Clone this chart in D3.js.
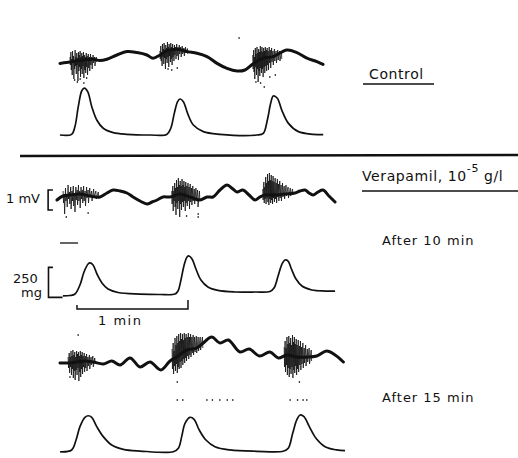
<!DOCTYPE html>
<html>
<head>
<meta charset="utf-8">
<script src="https://cdn.jsdelivr.net/npm/d3@7/dist/d3.min.js"></script>
<style>
  html, body { margin: 0; padding: 0; background: #fff; }
  svg { display: block; }
  text { font-family: "DejaVu Sans", sans-serif; fill: #111; }
</style>
</head>
<body>
<script>
// ---- Recordings: time in s, membrane potential in mV, tension in mg ----
// spike bursts: [time, upper excursion, lower excursion]

// Control
const controlWave = [[1.6,-0.02],[5.2,0.02],[8.6,0.07],[14.1,0.15],[19.5,0.19],[23.2,0.12],[27,0.19],[32.4,0.4],[37.8,0.57],[43.2,0.52],[48.6,0.4],[51.9,0.24],[55.7,0.4],[59.5,0.62],[64.9,0.69],[70.3,0.57],[75.7,0.49],[81.1,0.32],[86.5,-0.02],[91.9,-0.27],[97.3,-0.4],[101.6,-0.35],[105.9,-0.05],[111.4,0.24],[116.8,0.32],[124.3,0.65],[129.7,0.52],[135.1,0.24],[140.5,0.07],[143.8,-0.07]];
const controlSpikes = [
  [[7.0,0.3,-0.1],[7.5,0.55,-0.35],[8.0,0.2,-0.6],[8.4,0.6,0.0],[8.9,0.35,-0.8],[9.3,0.15,-0.3],[9.8,0.65,-0.15],[10.2,0.3,-0.55],[10.7,0.5,-0.1],[11.1,0.25,-0.9],[11.6,0.55,-0.4],[12.0,0.4,-0.2],[12.5,0.6,-0.7],[12.9,0.3,-0.3],[13.4,0.5,-0.55],[13.8,0.35,-0.15],[14.3,0.55,-0.75],[14.8,0.4,-0.35],[15.3,0.3,-0.5],[15.8,0.5,-0.2],[16.3,0.35,-0.6],[16.9,0.45,-0.25],[17.5,0.3,-0.4],[18.1,0.45,-0.1],[18.8,0.3,-0.3],[19.5,0.4,0.0],[20.3,0.3,-0.15],[21.2,0.3,0.05]],
  [[55.6,0.6,0.2],[56.1,0.85,0.1],[56.6,0.55,-0.15],[57.0,0.95,0.3],[57.5,0.7,-0.05],[57.9,1.0,0.25],[58.4,0.65,-0.3],[58.8,0.9,0.2],[59.3,0.75,0.0],[59.7,1.05,0.3],[60.2,0.8,-0.2],[60.6,0.95,0.35],[61.1,0.7,0.05],[61.5,1.0,0.2],[62.0,0.8,-0.1],[62.5,0.95,0.3],[63.0,0.75,0.1],[63.5,0.9,0.4],[64.1,0.8,0.2],[64.7,0.95,0.35],[65.4,0.8,0.15],[66.1,0.9,0.45],[66.9,0.8,0.3],[67.7,0.85,0.45],[68.6,0.75,0.35],[69.5,0.8,0.5],[70.5,0.72,0.45]],
  [[105.8,0.4,-0.3],[106.3,0.65,-0.45],[106.7,0.3,-0.8],[107.2,0.75,-0.2],[107.6,0.45,-0.6],[108.1,0.8,-0.3],[108.5,0.5,-0.95],[109.0,0.7,-0.4],[109.4,0.55,-0.65],[109.9,0.85,-0.25],[110.3,0.6,-0.5],[110.8,0.8,-0.3],[111.2,0.55,-0.7],[111.7,0.75,-0.2],[112.1,0.6,-0.5],[112.6,0.8,-0.15],[113.1,0.65,-0.4],[113.6,0.75,-0.1],[114.1,0.6,-0.35],[114.7,0.8,0.0],[115.3,0.65,-0.25],[116.0,0.75,0.05],[116.7,0.6,-0.1],[117.5,0.7,0.1],[118.4,0.6,0.0],[119.3,0.65,0.15],[120.3,0.6,0.1],[121.3,0.55,0.2]]
];
const controlSpecks = [[9.5,-0.85],[11,-0.95],[12.5,-0.8],[14.5,-1.0],[16,-0.75],[60,-0.3],[62,-0.35],[65,-0.25],[98.4,1.25],[107.5,-0.95],[110,-1.0],[112,-1.2],[115,-0.7],[118,-0.6]];
const controlForce = [[1.6,0],[7.9,5],[9.7,70],[11.5,236],[13.4,369],[14.8,390],[16.6,361],[18.8,236],[21.5,125],[25,56],[30.4,20],[37.7,6],[50.3,0],[59.3,5],[61.5,56],[63.4,180],[65.2,278],[66.5,300],[68.3,278],[70.6,180],[73.7,83],[79.1,28],[88.1,6],[107.9,0],[111.5,14],[113.7,125],[115.5,264],[116.9,325],[119.1,306],[121.5,208],[125.1,97],[130.5,28],[138.6,6],[143.9,3]];

// Verapamil, after 10 min
const vera10Wave = [[0,-0.15],[3.2,0.05],[7,0.1],[12.4,0.15],[17.8,0.05],[23.2,0],[27,0.2],[30.3,0.35],[34.1,0.3],[37.8,0.2],[41.1,0],[44.9,-0.2],[48.6,-0.35],[51.4,-0.25],[54.1,-0.15],[57.3,0],[61.1,0],[66.5,0.15],[71.9,0],[77.3,-0.15],[81.1,0],[84.3,0],[88.1,0.35],[91.9,0.6],[95.1,0.4],[97.3,0.25],[100.5,0.35],[103.8,0.1],[107,-0.15],[109.7,0],[112.4,0.1],[117.8,0.1],[123.2,0.15],[128.6,0.2],[131.4,0.3],[134.1,0.35],[136.2,0.2],[138.4,0.1],[141.1,0.25],[143.8,0.35],[147,0.05],[150.3,-0.25]];
const vera10Spikes = [
  [[3.3,0.3,-0.3],[3.9,0.1,-0.85],[4.6,0.45,-0.2],[5.3,0.15,-0.5],[6.0,0.6,-0.1],[6.7,0.25,-0.35],[7.4,0.5,-0.6],[8.1,0.3,-0.2],[8.8,0.55,-0.45],[9.5,0.2,-0.75],[10.2,0.5,-0.15],[10.9,0.35,-0.4],[11.6,0.6,-0.2],[12.3,0.3,-0.55],[13.0,0.5,-0.1],[13.7,0.35,-0.3],[14.4,0.55,-0.2],[15.2,0.3,-0.45],[16.0,0.5,-0.05],[16.8,0.35,-0.3],[17.7,0.45,0.0],[18.7,0.3,-0.2],[19.8,0.4,0.0],[21.0,0.3,-0.1],[22.3,0.25,0.0]],
  [[62.0,0.3,-0.35],[62.6,0.55,-0.7],[63.1,0.3,-0.2],[63.6,0.7,-0.5],[64.1,0.45,-0.9],[64.6,0.85,-0.3],[65.1,0.5,-0.6],[65.6,0.95,-0.2],[66.1,0.6,-1.0],[66.6,0.8,-0.35],[67.1,0.55,-0.65],[67.6,0.9,-0.25],[68.1,0.6,-0.5],[68.6,0.8,-0.2],[69.1,0.5,-0.7],[69.6,0.75,-0.3],[70.2,0.55,-0.45],[70.8,0.7,-0.2],[71.4,0.5,-0.6],[72.0,0.65,-0.25],[72.7,0.45,-0.4],[73.4,0.55,-0.2],[74.2,0.4,-0.35],[75.1,0.45,-0.15],[76.0,0.35,-0.5],[77.0,0.3,-0.2]],
  [[111.2,0.4,-0.15],[111.8,0.75,-0.3],[112.3,0.5,-0.1],[112.8,1.0,-0.35],[113.3,0.7,-0.05],[113.8,1.15,-0.25],[114.3,0.8,-0.4],[114.8,1.2,-0.1],[115.3,0.85,-0.3],[115.8,1.1,-0.15],[116.3,0.8,-0.35],[116.8,1.05,-0.05],[117.3,0.75,-0.25],[117.9,0.95,-0.1],[118.5,0.7,-0.3],[119.1,0.9,0.0],[119.7,0.65,-0.2],[120.4,0.8,-0.05],[121.1,0.6,-0.2],[121.9,0.7,0.0],[122.8,0.55,-0.1],[123.8,0.6,0.05],[124.9,0.5,-0.05],[126.1,0.45,0.05],[127.3,0.4,0.1]]
];
const vera10Specks = [[5,-1.0],[16.8,-0.8],[70,-0.95],[76.3,-0.85],[76.3,-1.0]];
const vera10Force = [[3.2,-8],[7,-4],[9.7,8],[12.4,83],[14.6,192],[16.8,258],[17.8,267],[19.5,250],[21.6,175],[24.3,100],[27.6,50],[33,21],[44.9,8],[55.7,4],[63.8,8],[65.4,33],[67,125],[68.6,242],[70.3,317],[71.4,325],[73,300],[75.1,217],[77.8,125],[81.6,67],[87,38],[96.2,25],[107,25],[115.1,29],[117.3,58],[119.5,158],[121.6,258],[123.2,292],[124.9,283],[126.5,225],[129.2,133],[132.4,75],[137.8,42],[144.9,33],[150.3,33]];

// Verapamil, after 15 min
const vera15Wave = [[1.6,0],[6.1,0],[10.6,0.05],[15.1,0.1],[19.6,0.05],[25,-0.05],[29.6,0.1],[34.1,-0.1],[39.5,0.25],[44.9,-0.2],[50.3,0.05],[56.1,-0.35],[61.1,0.1],[64.7,0.3],[70.1,0.65],[75.5,0.75],[79.1,1.0],[83.6,1.3],[88.1,1.0],[92.6,1.15],[98.9,0.55],[103.9,0.7],[109.4,0.35],[115.1,0.55],[119.6,0.25],[124.2,0.4],[129.6,0.3],[135,0.3],[140.4,0.35],[145.8,0.6],[150.3,0.4],[154.8,0.05]];
const vera15Spikes = [
  [[6.0,0.3,-0.25],[6.6,0.5,-0.5],[7.1,0.3,-0.2],[7.6,0.6,-0.6],[8.1,0.35,-0.3],[8.6,0.65,-0.75],[9.1,0.4,-0.4],[9.6,0.55,-0.85],[10.1,0.3,-0.35],[10.6,0.6,-0.6],[11.1,0.45,-0.25],[11.6,0.55,-0.9],[12.1,0.35,-0.45],[12.6,0.6,-0.7],[13.1,0.4,-0.3],[13.6,0.55,-0.55],[14.1,0.35,-0.2],[14.7,0.5,-0.45],[15.3,0.35,-0.25],[16.0,0.45,-0.4],[16.7,0.3,-0.15],[17.5,0.4,-0.3],[18.4,0.3,-0.1],[19.4,0.35,-0.2],[20.4,0.25,-0.05]],
  [[62.2,0.7,-0.3],[62.8,1.0,-0.55],[63.3,0.6,-0.15],[63.8,1.25,-0.4],[64.3,0.9,-0.05],[64.8,1.35,-0.5],[65.3,1.0,-0.2],[65.8,1.45,-0.3],[66.3,1.1,0.05],[66.8,1.5,-0.25],[67.3,1.2,0.1],[67.8,1.45,-0.1],[68.3,1.15,0.2],[68.8,1.5,0.0],[69.3,1.25,0.25],[69.8,1.45,0.1],[70.4,1.3,0.35],[71.0,1.5,0.2],[71.6,1.3,0.4],[72.2,1.45,0.3],[72.9,1.3,0.5],[73.6,1.4,0.4],[74.4,1.3,0.55],[75.3,1.35,0.5],[76.3,1.3,0.6],[77.4,1.3,0.65],[78.6,1.3,0.75]],
  [[122.8,0.8,-0.2],[123.3,1.1,-0.45],[123.8,0.75,-0.1],[124.3,1.3,-0.6],[124.8,0.95,-0.25],[125.3,1.35,-0.7],[125.8,1.0,-0.3],[126.3,1.25,-0.55],[126.8,0.9,-0.2],[127.3,1.4,-0.75],[127.8,1.05,-0.35],[128.3,1.3,-0.5],[128.8,0.95,-0.15],[129.3,1.2,-0.6],[129.8,0.9,-0.3],[130.4,1.15,-0.45],[131.0,0.85,-0.1],[131.6,1.1,-0.35],[132.2,0.8,-0.05],[132.9,1.0,-0.25],[133.6,0.75,0.0],[134.4,0.9,-0.15],[135.3,0.7,0.05],[136.3,0.75,-0.05],[137.4,0.65,0.1]]
];
const vera15Specks = [[11.4,1.4],[7,-0.7],[65,-0.95],[131,-0.95],[65,-1.85],[68,-1.85],[81,-1.85],[84,-1.85],[88,-1.85],[92,-1.85],[95,-1.85],[126,-1.85],[130,-1.85],[133,-1.85],[135,-1.85]];
const vera15Force = [[1.6,2],[7.9,17],[10.3,100],[12.4,211],[15.1,289],[16.9,302],[18.8,289],[21.5,211],[25,128],[29.6,58],[35.8,22],[44.9,8],[62.9,2],[65.6,31],[67.4,128],[69.2,239],[71.9,289],[74.1,272],[76.9,183],[80.5,100],[85.4,44],[93.5,17],[107.9,6],[122.3,6],[125,31],[127.4,156],[129.6,267],[131.4,308],[133.5,294],[136.4,211],[140,114],[144.9,44],[151.2,17],[155.7,11]];

// Calibrations
const calVoltage = [-0.65, 0.35];   // 1 mV
const calTension = [-20, 230];      // 250 mg
const calTime = [10.8, 70.8];       // 1 min

const W = 518, H = 458;
const svg = d3.select("body").append("svg").attr("width", W).attr("height", H);
svg.append("rect").attr("width", W).attr("height", H).attr("fill", "#fff");

const x = d3.scaleLinear().domain([0, 160]).range([57, 353]);

// vertical scales per row: 20 px per mV, 30 px per 250 mg
const mvScale = y0 => d3.scaleLinear().domain([0, 1]).range([y0, y0 - 20]);
const mgScale = y0 => d3.scaleLinear().domain([0, 250]).range([y0, y0 - 30]);

const rows = [
  { wave: controlWave, bursts: controlSpikes, specks: controlSpecks, force: controlForce, yE: mvScale(63), yF: mgScale(135) },
  { wave: vera10Wave, bursts: vera10Spikes, specks: vera10Specks, force: vera10Force, yE: mvScale(197), yF: mgScale(295) },
  { wave: vera15Wave, bursts: vera15Spikes, specks: vera15Specks, force: vera15Force, yE: mvScale(363), yF: mgScale(452) }
];

const ink = "#111";

rows.forEach(r => {
  const g = svg.append("g");
  // spike bursts: each discharge swings up then down, drawn as a continuous fine trace
  const burstLine = d3.line().x(d => x(d[0])).y(d => r.yE(d[1]));
  r.bursts.forEach(b => {
    const pts = [];
    b.forEach(s => { pts.push([s[0], s[1]]); pts.push([s[0] + 0.22, s[2]]); });
    g.append("path").datum(pts).attr("d", burstLine)
      .attr("fill", "none").attr("stroke", ink).attr("stroke-width", 0.8);
  });
  // slow wave
  g.append("path").datum(r.wave)
    .attr("d", d3.line().x(d => x(d[0])).y(d => r.yE(d[1])).curve(d3.curveCatmullRom.alpha(0.5)))
    .attr("fill", "none").attr("stroke", ink).attr("stroke-width", 3)
    .attr("stroke-linejoin", "round").attr("stroke-linecap", "round");
  // isolated specks
  g.selectAll("rect.speck").data(r.specks).join("rect")
    .attr("class", "speck")
    .attr("x", d => x(d[0]) - 0.6).attr("y", d => r.yE(d[1]) - 0.8)
    .attr("width", 1.3).attr("height", 1.6).attr("fill", ink);
  // tension
  g.append("path").datum(r.force)
    .attr("d", d3.line().x(d => x(d[0])).y(d => r.yF(d[1])).curve(d3.curveCatmullRom.alpha(0.5)))
    .attr("fill", "none").attr("stroke", ink).attr("stroke-width", 1.7)
    .attr("stroke-linejoin", "round");
});

// separator between control and verapamil
svg.append("line").attr("x1", 20).attr("x2", 518).attr("y1", 156).attr("y2", 155)
  .attr("stroke", ink).attr("stroke-width", 2.4);

// labels
svg.append("text").attr("x", 369).attr("y", 79).attr("font-size", 14).attr("letter-spacing", 0.6).text("Control");
svg.append("line").attr("x1", 363).attr("x2", 434).attr("y1", 84).attr("y2", 84).attr("stroke", ink).attr("stroke-width", 1.4);

const vt = svg.append("text").attr("x", 362).attr("y", 181).attr("font-size", 14).attr("letter-spacing", 0.6);
vt.append("tspan").text("Verapamil, 10");
vt.append("tspan").attr("dy", -9).attr("font-size", 11).text("-5");
vt.append("tspan").attr("dy", 9).text(" g/l");
svg.append("line").attr("x1", 362).attr("x2", 518).attr("y1", 191).attr("y2", 191).attr("stroke", ink).attr("stroke-width", 1.4);

svg.append("text").attr("x", 382).attr("y", 245).attr("font-size", 13).attr("letter-spacing", 1).text("After 10 min");
svg.append("text").attr("x", 382).attr("y", 402).attr("font-size", 13).attr("letter-spacing", 1).text("After 15 min");

// 1 mV calibration
const r2 = rows[1];
svg.append("text").attr("x", 6).attr("y", 203).attr("font-size", 13).text("1 mV");
svg.append("path")
  .attr("d", `M${x(-2.2)},${r2.yE(calVoltage[1])}H${x(-4.8)}V${r2.yE(calVoltage[0])}H${x(-2.2)}`)
  .attr("fill", "none").attr("stroke", ink).attr("stroke-width", 1.6);

// 250 mg calibration
svg.append("text").attr("x", 13).attr("y", 283).attr("font-size", 13).text("250");
svg.append("text").attr("x", 21).attr("y", 297).attr("font-size", 13).text("mg");
svg.append("path")
  .attr("d", `M${x(-2.2)},${r2.yF(calTension[1])}H${x(-4.6)}V${r2.yF(calTension[0])}H${x(3)}`)
  .attr("fill", "none").attr("stroke", ink).attr("stroke-width", 1.6);

// stimulus mark
svg.append("line").attr("x1", x(1.6)).attr("x2", x(11.4)).attr("y1", 243).attr("y2", 243)
  .attr("stroke", ink).attr("stroke-width", 1.3);

// 1 min time bar
const tb = 309;
svg.append("path")
  .attr("d", `M${x(calTime[0])},${tb - 4}V${tb}H${x(calTime[1])}V${tb - 9}`)
  .attr("fill", "none").attr("stroke", ink).attr("stroke-width", 1.5);
svg.append("text").attr("x", 98).attr("y", 325).attr("font-size", 13).attr("letter-spacing", 1.5).text("1  min");
</script>
</body>
</html>
